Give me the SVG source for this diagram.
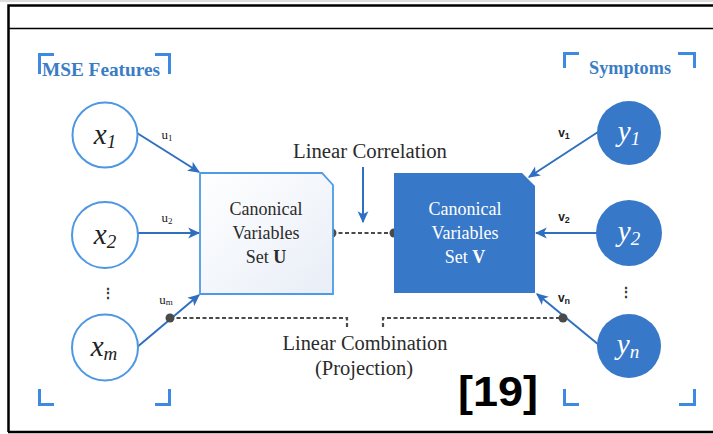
<svg xmlns="http://www.w3.org/2000/svg" width="713" height="434" viewBox="0 0 713 434">
  <defs>
    <linearGradient id="boxU" x1="0" y1="0" x2="1" y2="1">
      <stop offset="0" stop-color="#ffffff"/>
      <stop offset="1" stop-color="#e8eef7"/>
    </linearGradient>
    <marker id="arrow" viewBox="0 0 10 10" refX="9" refY="5" markerWidth="6" markerHeight="6" orient="auto" markerUnits="strokeWidth">
      <path d="M0,0.5 L10,5 L0,9.5 L2.5,5 Z" fill="#2f6fc0"/>
    </marker>
    <style>
      .frame { fill: none; stroke: #000; }
      .bracket { fill: none; stroke: #3d8be0; stroke-width: 3; }
      .group-title { font-family: "Liberation Serif", serif; font-weight: bold; fill: #3b7dc4; }
      .serif { font-family: "Liberation Serif", serif; fill: #2b2b2b; }
      .var { font-family: "Liberation Serif", serif; font-style: italic; }
      .wlabel { font-family: "Liberation Serif", serif; font-size: 13px; fill: #222; }
      .vlabel { font-family: "Liberation Sans", sans-serif; font-size: 12px; font-weight: bold; fill: #222; }
      .link { stroke: #2f6fc0; stroke-width: 2; fill: none; marker-end: url(#arrow); }
      .dash { stroke: #4a4a4a; stroke-width: 2.2; stroke-dasharray: 4 2.5; fill: none; }
      .dot { fill: #4a4a4a; }
      .xnode { fill: #fff; stroke: #4d97e3; stroke-width: 2; }
      .ynode { fill: #3878c8; }
    </style>
  </defs>

  <!-- outer frame -->
  <rect x="0" y="0" width="713" height="434" fill="#fff"/>
  <line x1="0" y1="1" x2="713" y2="1" stroke="#bbb" stroke-width="1"/>
  <path class="frame" d="M713,5.5 H8.5 V432" stroke-width="2.5"/>
  <line class="frame" x1="9" y1="28.5" x2="713" y2="28.5" stroke-width="1.5"/>
  <line class="frame" x1="8" y1="432" x2="713" y2="432" stroke-width="2.5"/>

  <!-- corner brackets: feature group -->
  <g id="features-frame">
    <path class="bracket" d="M39.5,74 V54.5 H54"/>
    <path class="bracket" d="M155,54.5 H169.5 V74"/>
    <path class="bracket" d="M39.5,389 V404.5 H54"/>
    <path class="bracket" d="M155,404.5 H169.5 V389"/>
    <text class="group-title" x="42" y="76" font-size="19" textLength="118" lengthAdjust="spacingAndGlyphs">MSE Features</text>
  </g>

  <!-- corner brackets: symptom group -->
  <g id="symptoms-frame">
    <path class="bracket" d="M564.5,68 V53.5 H579"/>
    <path class="bracket" d="M678,53.5 H694.5 V68"/>
    <path class="bracket" d="M564.5,389 V404.5 H579"/>
    <path class="bracket" d="M679,404.5 H694.5 V389"/>
    <text class="group-title" x="589" y="74" font-size="18" textLength="82" lengthAdjust="spacingAndGlyphs">Symptoms</text>
  </g>

  <!-- connectors -->
  <g id="connectors">
    <line class="link" x1="137" y1="133" x2="199" y2="172"/>
    <line class="link" x1="138" y1="233" x2="199" y2="233"/>
    <line class="link" x1="136" y1="348" x2="199" y2="295"/>
    <line class="link" x1="598" y1="132" x2="529" y2="177"/>
    <line class="link" x1="597" y1="233" x2="536" y2="233"/>
    <line class="link" x1="599" y1="345" x2="537" y2="294"/>
    <line class="link" x1="363" y1="167" x2="363" y2="222"/>

    <!-- correlation link between the two sets -->
    <line class="dash" x1="332" y1="233" x2="394" y2="233"/>
    <circle class="dot" cx="332" cy="233" r="4.5"/>
    <circle class="dot" cx="394" cy="233" r="4.5"/>

    <!-- projection bracket joining u_m and v_n -->
    <path class="dash" d="M170,318 H347 V327"/>
    <path class="dash" d="M383,327 V318 H563"/>
    <circle class="dot" cx="170" cy="318" r="4.5"/>
    <circle class="dot" cx="563" cy="318" r="4.5"/>

    <text class="wlabel" x="167" y="139" text-anchor="middle">u<tspan font-size="9" dy="2">1</tspan></text>
    <text class="wlabel" x="167" y="222" text-anchor="middle">u<tspan font-size="9" dy="2">2</tspan></text>
    <text class="wlabel" x="166" y="304" text-anchor="middle">u<tspan font-size="9" dy="1">m</tspan></text>
    <text class="vlabel" x="564" y="137" text-anchor="middle">v<tspan font-size="9" dy="2">1</tspan></text>
    <text class="vlabel" x="564" y="221" text-anchor="middle">v<tspan font-size="9" dy="2">2</tspan></text>
    <text class="vlabel" x="564" y="302" text-anchor="middle">v<tspan font-size="9" dy="2">n</tspan></text>

    <text class="serif" x="370" y="158" font-size="20" text-anchor="middle" textLength="154" lengthAdjust="spacingAndGlyphs">Linear Correlation</text>
    <text class="serif" x="365" y="350" font-size="20" text-anchor="middle" textLength="165" lengthAdjust="spacingAndGlyphs">Linear Combination</text>
    <text class="serif" x="364" y="375" font-size="20" text-anchor="middle" textLength="98" lengthAdjust="spacingAndGlyphs">(Projection)</text>
  </g>

  <!-- input feature nodes -->
  <g id="x1">
    <circle class="xnode" cx="105" cy="135" r="32.5"/>
    <text class="var" x="105" y="144" font-size="29" fill="#222" text-anchor="middle">x<tspan font-size="19" dy="4">1</tspan></text>
  </g>
  <g id="x2">
    <circle class="xnode" cx="105" cy="235" r="33"/>
    <text class="var" x="105" y="244" font-size="29" fill="#222" text-anchor="middle">x<tspan font-size="19" dy="4">2</tspan></text>
  </g>
  <g id="x-dots">
    <text x="108" y="298" font-family="Liberation Sans, sans-serif" font-size="14" font-weight="bold" fill="#333" text-anchor="middle">⋮</text>
  </g>
  <g id="xm">
    <circle class="xnode" cx="105" cy="347.5" r="33"/>
    <text class="var" x="104" y="356" font-size="29" fill="#222" text-anchor="middle">x<tspan font-size="19" dy="4">m</tspan></text>
  </g>

  <!-- canonical variable sets -->
  <g id="set-u">
    <path d="M200,173 H322 L333,185 V294 H200 Z" fill="url(#boxU)" stroke="#4d9ae6" stroke-width="1.8"/>
    <text class="serif" x="266" y="215" font-size="18" text-anchor="middle">Canonical</text>
    <text class="serif" x="266" y="239" font-size="18" text-anchor="middle">Variables</text>
    <text class="serif" x="266" y="263" font-size="18" text-anchor="middle">Set <tspan font-weight="bold">U</tspan></text>
  </g>
  <g id="set-v">
    <path d="M394,173 H522 L535,186 V293 H394 Z" fill="#3878c8"/>
    <text class="serif" x="465" y="215" font-size="18" text-anchor="middle" style="fill:#fff">Canonical</text>
    <text class="serif" x="465" y="239" font-size="18" text-anchor="middle" style="fill:#fff">Variables</text>
    <text class="serif" x="465" y="263" font-size="18" text-anchor="middle" style="fill:#fff">Set <tspan font-weight="bold">V</tspan></text>
  </g>

  <!-- symptom nodes -->
  <g id="y1">
    <circle class="ynode" cx="629" cy="133" r="32"/>
    <text class="var" x="629" y="141" font-size="29" fill="#fff" text-anchor="middle">y<tspan font-size="19" dy="4">1</tspan></text>
  </g>
  <g id="y2">
    <circle class="ynode" cx="629" cy="233" r="33"/>
    <text class="var" x="629" y="241" font-size="29" fill="#fff" text-anchor="middle">y<tspan font-size="19" dy="4">2</tspan></text>
  </g>
  <g id="y-dots">
    <text x="626" y="297" font-family="Liberation Sans, sans-serif" font-size="14" font-weight="bold" fill="#333" text-anchor="middle">⋮</text>
  </g>
  <g id="yn">
    <circle class="ynode" cx="629" cy="346" r="32"/>
    <text class="var" x="628" y="354" font-size="29" fill="#fff" text-anchor="middle">y<tspan font-size="19" dy="4">n</tspan></text>
  </g>

  <!-- citation tag -->
  <text x="498" y="406" font-family="Liberation Sans, sans-serif" font-size="42" font-weight="bold" fill="#000" text-anchor="middle" textLength="80" lengthAdjust="spacingAndGlyphs">[19]</text>
</svg>
